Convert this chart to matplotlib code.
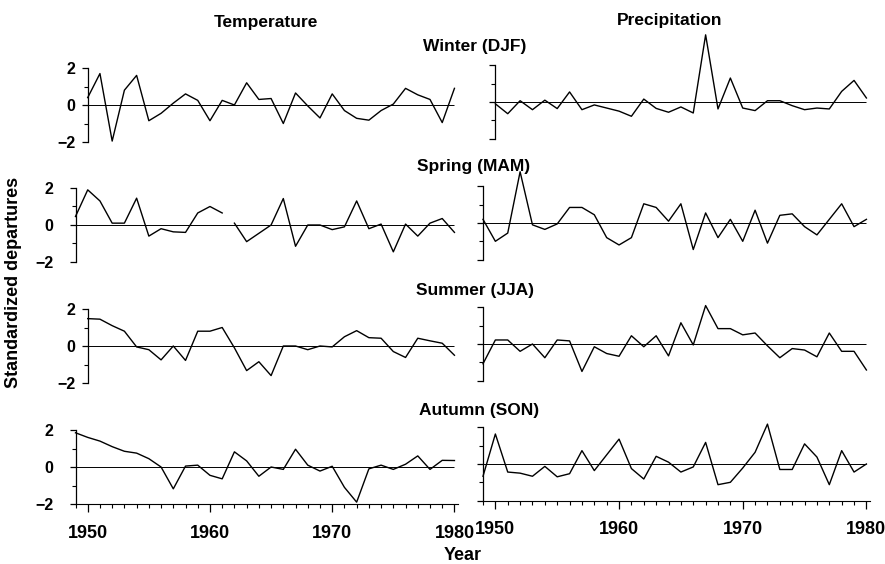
"""
Seasonal temperature and precipitation departures, 1949-1980.
"""
import numpy as np
import matplotlib.pyplot as plt
import matplotlib as mpl
from matplotlib.ticker import MultipleLocator

mpl.rcParams.update({
    'font.family': 'Liberation Sans', 'font.size': 10, 'font.weight': 'bold',
})

years = np.arange(1949, 1981)
nan = np.nan

# standardized departures, 1949..1980 (nan = no value)
winter_temp = [nan, 0.4, 1.7, -1.95, 0.8, 1.6, -0.85, -0.45, 0.1, 0.6, 0.25,
               -0.85, 0.25, 0.0, 1.2, 0.3, 0.35, -1.0, 0.65, -0.05, -0.7,
               0.6, -0.3, -0.72, -0.82, -0.3, 0.05, 0.9, 0.55, 0.3, -0.95, 0.9]
spring_temp = [0.46, 1.9, 1.3, 0.1, 0.1, 1.45, -0.6, -0.2, -0.37, -0.4, 0.65,
               1.0, 0.65, 0.1, -0.9, -0.45, 0.0, 1.43, -1.15, 0.0, 0.0,
               -0.25, -0.1, 1.3, -0.2, 0.05, -1.45, 0.05, -0.6, 0.1, 0.35, -0.4]
spring_temp_gap = 1962   # line is broken between 1961 and 1962
summer_temp = [nan, 1.48, 1.45, 1.1, 0.8, -0.05, -0.2, -0.75, 0.0, -0.78, 0.8,
               0.8, 1.0, -0.1, -1.33, -0.85, -1.6, 0.0, 0.0, -0.2, 0.0,
               -0.05, 0.5, 0.83, 0.45, 0.42, -0.3, -0.62, 0.42, 0.28, 0.15, -0.5]
autumn_temp = [1.85, 1.6, 1.4, 1.1, 0.85, 0.75, 0.45, 0.0, -1.18, 0.05, 0.1,
               -0.45, -0.64, 0.82, 0.33, -0.5, 0.0, -0.13, 0.96, 0.1, -0.22,
               0.04, -1.1, -1.9, -0.1, 0.1, -0.13, 0.15, 0.6, -0.13, 0.36, 0.35]

winter_precip = [nan, -0.1, -0.64, 0.07, -0.42, 0.1, -0.36, 0.55, -0.42, -0.16,
                 -0.33, -0.5, -0.78, 0.16, -0.35, -0.56, -0.27, -0.6, 3.67, -0.38,
                 1.31, -0.33, -0.47, 0.07, 0.07, -0.2, -0.42, -0.33, -0.38, 0.58,
                 1.18, 0.22]
spring_precip = [0.2, -1.0, -0.55, 2.8, -0.1, -0.35, -0.05, 0.85, 0.85, 0.45,
                 -0.8, -1.2, -0.8, 1.05, 0.85, 0.1, 1.05, -1.45, 0.55, -0.8,
                 0.2, -1.0, 0.7, -1.1, 0.42, 0.5, -0.2, -0.65, 0.2, 1.05, -0.2, 0.2]
summer_precip = [-1.08, 0.22, 0.22, -0.4, 0.0, -0.75, 0.22, 0.17, -1.5, -0.15,
                 -0.52, -0.67, 0.45, -0.15, 0.45, -0.65, 1.16, -0.05, 2.1, 0.84,
                 0.84, 0.5, 0.6, -0.1, -0.75, -0.25, -0.33, -0.7, 0.6, -0.4, -0.4, -1.42]
autumn_precip = [-0.67, 1.64, -0.44, -0.5, -0.67, -0.13, -0.7, -0.53, 0.73, -0.36,
                 0.5, 1.36, -0.25, -0.82, 0.42, 0.1, -0.44, -0.16, 1.18, -1.13,
                 -1.0, -0.22, 0.64, 2.18, -0.3, -0.3, 1.1, 0.38, -1.13, 0.73, -0.44, 0.0]

seasons = ['Winter (DJF)', 'Spring (MAM)', 'Summer (JJA)', 'Autumn (SON)']
temp = [winter_temp, spring_temp, summer_temp, autumn_temp]
precip = [winter_precip, spring_precip, summer_precip, autumn_precip]

W, H = 885, 564
fig = plt.figure(figsize=(W / 100, H / 100), dpi=100)

def px_axes(x0, x1, yc, half):
    return fig.add_axes([x0 / W, (H - yc - half) / H, (x1 - x0) / W, 2 * half / H])

left_centers = [105, 225, 346, 467]
right_centers = [102, 223, 344, 464]

def draw(ax, vals, show_ylabels, bottom, gap=None):
    v = np.array(vals, dtype=float)
    ok = ~np.isnan(v)
    yr, v = years[ok], v[ok]
    ax.set_xlim(1949, 1980.25)
    ax.set_ylim(-2, 2)
    ax.hlines(0, yr[0], yr[-1], color='black', lw=0.7, zorder=1)
    if gap is None:
        ax.plot(yr, v, color='black', lw=1.0, clip_on=False, zorder=2)
    else:
        m = yr < gap
        ax.plot(yr[m], v[m], color='black', lw=1.0, clip_on=False, zorder=2)
        ax.plot(yr[~m], v[~m], color='black', lw=1.0, clip_on=False, zorder=2)
    for s in ['top', 'right']:
        ax.spines[s].set_visible(False)
    ax.spines['left'].set_position(('data', yr[0]))
    ax.spines['left'].set_linewidth(0.9)
    ax.set_yticks([-2, 0, 2])
    ax.yaxis.set_minor_locator(MultipleLocator(1))
    pad = 5 if yr[0] > 1949 else 12
    ax.tick_params(axis='y', which='major', length=4, width=0.9, direction='out',
                   labelsize=11.5, pad=pad, labelleft=show_ylabels)
    ax.tick_params(axis='y', which='minor', length=3, width=0.8, direction='out')
    ax.set_yticklabels(['\u22122', '0', '2'])
    ax.patch.set_visible(False)
    if bottom:
        ax.spines['bottom'].set_linewidth(0.8)
        ax.set_xticks([1950, 1960, 1970, 1980])
        ax.xaxis.set_minor_locator(MultipleLocator(1))
        ax.tick_params(axis='x', which='major', length=6, width=0.9, direction='out',
                       labelsize=13, pad=9)
        ax.tick_params(axis='x', which='minor', length=3, width=0.8, direction='out')
    else:
        ax.spines['bottom'].set_visible(False)
        ax.set_xticks([])

for i in range(4):
    axl = px_axes(75.5, 457.5, left_centers[i], 37)
    draw(axl, temp[i], True, i == 3, gap=spring_temp_gap if i == 1 else None)
    axr = px_axes(483, 869.5, right_centers[i], 36.6)
    draw(axr, precip[i], False, i == 3)

fig.text(266 / W, 1 - 23 / H, 'Temperature', ha='center', va='center', fontsize=12.5)
fig.text(670 / W, 1 - 21 / H, 'Precipitation', ha='center', va='center', fontsize=12.5)
season_pos = [(475, 47), (474, 167), (475, 290), (479, 410)]
for name, (x, y) in zip(seasons, season_pos):
    fig.text(x / W, 1 - y / H, name, ha='center', va='center', fontsize=12.5)
fig.text(14 / W, 1 - 282 / H, 'Standardized departures', rotation=90,
         ha='center', va='center', fontsize=13)
fig.text(463 / W, 1 - 555 / H, 'Year', ha='center', va='center', fontsize=13)

fig.savefig('out.png', dpi=100)
